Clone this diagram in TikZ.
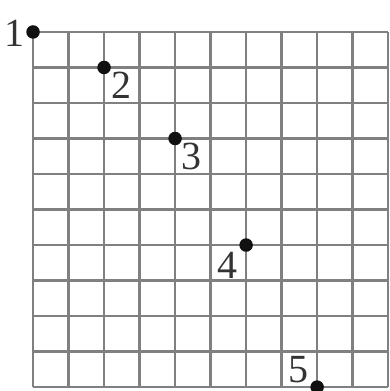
\documentclass[tikz,border=0pt]{standalone}
\usepackage{fontspec}
\setmainfont{Liberation Serif}
\usetikzlibrary{calc}
\definecolor{gridGray}{HTML}{808080}
\definecolor{dotBlack}{HTML}{111111}

\begin{document}
\begin{tikzpicture}[
  gridline/.style ={draw=gridGray, line width=1.9pt},
  dot/.style      ={circle, fill=dotBlack, inner sep=0pt, minimum size=0.38cm},
  num/.style      ={font=\fontsize{32}{32}\selectfont, text=black!80, inner sep=0pt},
]
\useasboundingbox (-0.93,0.9) rectangle (10.03,-10.11);

% ----- Grid -----
\draw[gridline] (0,0) grid (10,-10);

% ----- Points -----
\node[dot] (P1) at (0,0)   {};
\node[dot] (P2) at (2,-1)  {};
\node[dot] (P3) at (4,-3)  {};
\node[dot] (P4) at (6,-6)  {};
\node[dot] (P5) at (8,-10) {};

% ----- Labels -----
\node[num] (L1) at ($(P1)+(-0.52,-0.05)$) {1};
\node[num] (L2) at ($(P2)+(0.48,-0.5)$)   {2};
\node[num] (L3) at ($(P3)+(0.45,-0.5)$)   {3};
\node[num] (L4) at ($(P4)+(-0.53,-0.56)$) {4};
\node[num] (L5) at ($(P5)+(-0.53,0.48)$)  {5};

\end{tikzpicture}
\end{document}
